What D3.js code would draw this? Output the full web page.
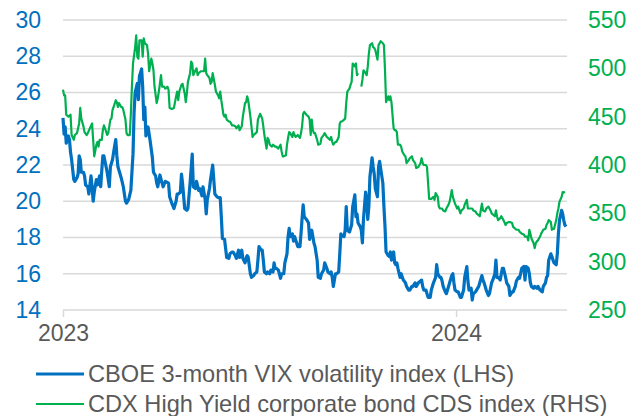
<!DOCTYPE html>
<html lang="en">
  <head>
    <meta charset="UTF-8" />
    <title>VIX vs CDX HY</title>
    <style>
      body { margin: 0; background: #fff; }
      svg { display: block; font-family: "Liberation Sans", Arial, sans-serif; }
    </style>
  </head>
  <body>
    <svg width="643" height="416"></svg>

    <script src="https://d3js.org/d3.v7.min.js"></script>
    <script>
      // Days counted from 1 Jan 2023
      const startDate = new Date(2023, 0, 1);
      const lastDay = 468;

      const vixDays = [
        0,1,2,3,5,6,7,8,10,11, 13,14,15,16,17,19,20,21,23,24,
        26,27,28,29,31,32,34,35,36,37, 38,40,41,43,44,46,47,49,50,51,
        53,54,56,58,59,61,63,65,66,67, 69,70,71,73,74,75,
        76,77,79,81,83,84,86,87,88,90, 92,93,95,98,99,101,103,105,106,107,
        109,110,111,113,115,116,118,120,121,123, 124,126,127,129,130,132,133,134,136,137,
        139,141,143,144,146,147,148,150,152,154, 155,157,
        158,160,161,163,164,166,167,169,170,171, 172,174,175,177,178,180,181,182,184,185,
        186,187,189,190,192,193,195,196,197,198, 200,202,203,205,206,208,209,210,211,213,
        214,215,217,218,220,221,222,223,224,226, 227,228,229,231,232,233,
        234,236,237,239,240,242,243,245,246,248, 249,250,251,253,254,256,257,258,259,261,
        262,263,264,266,267,268,269,271,272,273, 274,276,277,278,279,281,282,283,284,285,
        287,288,289,290,292,293,294,295,297,298, 299,300,302,303,304,305,307,308,309,310,
        311,313,
        314,316,318,319,321,322,324,325,327,328, 330,332,333,334,335,337,338,339,341,342,
        344,346,347,348,350,351,352,353,355,356, 358,359,361,362,363,364,366,367,369,370,
        372,373,375,376,377,379,380,381,383,384, 386,387,389,390,391,
        393,395,396,398,399,400,401,402,403,404, 406,407,408,409,411,412,414,415,417,418,
        420,421,423,424,426,428,429,430,432,433, 434,435,437,438,440,441,443,445,446,448,
        449,450,451,453,454,455,456,458,459,460, 461,463,464,465,466,467
      ];
      const vixValues = [
        24.6,23.7,24.1,23.2,23.6,23.4,22.7,22.3,21.2,21.1, 21.3,21.5,22.5,22.3,21.6,21.6,21.4,20.9,20.8,20.4,
        21.4,20.8,20.0,20.5,21.2,20.9,21.4,20.8,21.7,22.5, 22.5,21.9,21.6,20.8,21.9,22.3,22.7,23.4,22.5,21.9,
        21.5,21.3,20.8,20.0,19.9,20.1,20.6,22.6,24.9,26.0, 26.5,25.6,26.9,27.3,26.3,24.5,
        25.2,23.6,24.1,23.3,22.4,21.6,21.4,21.0,20.8,21.45, 21.0,20.8,21.1,21.0,20.25,19.9,19.6,20.0,20.4,20.4,
        20.5,21.5,21.0,19.6,19.5,19.6,21.0,22.6,20.8,20.7, 21.1,20.6,20.7,20.3,20.8,20.1,19.3,20.1,20.7,21.2,
        22.0,20.4,20.25,20.2,20.2,19.15,17.95,17.9,16.9,16.85, 17.1,17.2,
        17.2,17.0,16.85,17.3,16.9,17.3,16.85,16.6,16.85,17.0, 16.9,16.0,15.8,15.9,16.0,16.1,16.75,17.5,17.3,17.3,
        16.75,16.1,16.0,16.1,16.0,16.2,16.1,16.6,16.3,16.3, 16.2,15.75,16.0,16.0,16.6,17.1,18.05,18.5,18.05,18.2,
        17.8,18.05,17.7,17.5,17.5,18.2,19.05,19.8,19.15,19.0, 18.9,18.8,17.9,18.4,18.05,17.7,
        17.5,16.75,15.8,15.75,16.0,16.2,16.6,16.3,16.1,16.0, 16.1,15.8,15.3,16.0,16.0,16.1,17.1,18.2,18.1,18.05,
        18.4,19.7,18.4,18.3,18.5,18.7,19.7,20.35,19.15,19.3, 18.8,18.6,18.4,17.7,19.0,20.5,20.1,19.0,19.7,21.35,
        22.4,21.9,21.5,20.7,20.25,21.9,22.2,21.8,21.0,19.7, 18.6,17.2,17.0,16.95,17.2,16.75,17.2,16.6,16.5,16.6,
        16.3,15.8,
        16.0,15.65,15.5,15.3,15.1,15.1,15.3,15.3,15.5,15.3, 15.5,15.6,15.65,15.3,15.1,15.1,14.9,14.7,14.7,15.1,
        15.5,15.8,16.5,16.0,15.8,15.8,15.6,15.3,15.0,14.9, 15.3,15.5,15.9,16.0,15.5,15.1,15.0,15.0,14.7,14.7,
        15.1,15.8,16.4,15.6,15.1,15.2,14.55,14.9,15.0,15.1, 15.3,15.5,15.9,15.65,15.5,
        15.1,14.8,14.9,15.5,15.65,15.8,16.0,16.75,15.8,15.8, 15.65,16.0,16.3,16.3,15.8,15.5,15.3,14.8,15.0,15.0,
        15.3,15.6,15.8,15.75,16.3,16.4,15.65,16.4,16.3,16.0, 15.5,15.3,15.2,15.3,15.2,15.3,15.1,15.0,15.3,15.5,
        15.8,15.9,16.75,17.1,16.95,16.75,16.6,16.5,17.1,18.2, 18.95,19.5,19.3,18.95,18.7,18.6
      ];

      const cdxDays = [
        0,1,2,3,5,7,8,10,11,13, 15,16,17,19,20,22,23,25,27,28,
        29,31,32,33,34,36,37,38,39,41, 42,44,45,46,47,49,50,51,52,54,
        55,56,58,59,60,62,63,64,65,67, 68,69,70,71,73,74,75,
        76,78,79,80,82,83,84,85,87,88, 89,91,92,94,95,97,98,99,101,103,
        105,106,107,108,110,111,113,114,115,116, 118,119,120,121,123,124,125,126,128,129,
        131,132,133,134,136,137,138,139,141,142, 144,145,146,147,149,150,151,152,154,155,
        157,
        158,160,161,163,164,166,167,169,170,171, 172,174,175,176,177,179,180,181,183,185,
        186,187,189,190,191,192,194,195,197,198, 200,202,203,204,205,207,208,209,210,211,
        213,214,215,216,218,220,221,222,223,224, 226,228,229,230,231,232,233,
        234,236,237,239,240,242,243,245,246,248, 249,250,251,253,254,256,257,258,259,261,
        262,263,264,266,267,268,269,271,272,273, 274,275,277,278,279,281,282,283,284,285,
        287,288,289,290,292,293,294,295,297,298, 299,300,302,303,304,305,307,308,309,310,
        311,313,
        314,315,317,318,319,321,322,324,325,327, 328,330,332,333,334,335,337,338,340,341,
        342,344,345,346,348,349,350,352,353,355, 356,358,359,361,362,364,366,367,369,370,
        372,373,375,376,378,380,381,383,384,386, 387,389,390,392,
        393,395,397,398,400,401,402,403,404,406, 407,409,411,412,414,415,417,418,420,421,
        423,424,426,428,429,431,432,433,434,435, 437,438,439,440,441,443,444,445,446,448,
        449,450,451,453,454,455,456,458,459,460, 461,463,464,465,466
      ];
      const cdxValues = [
        478,472,472,452,450,452,431,426,431,433, 443,459,448,440,434,431,433,438,443,426,
        409,421,424,419,426,426,436,441,438,431, 433,447,448,457,460,467,465,460,464,460,
        460,457,447,433,431,431,453,481,505,522, 534,512,510,529,529,512,531,
        526,524,515,497,510,505,498,481,464,469, 476,493,481,481,479,481,478,459,458,459,
        471,476,467,476,483,484,474,465,474,486, 495,507,505,493,498,500,493,495,497,497,
        497,510,495,493,490,484,486,495,483,476, 472,469,476,467,452,450,452,447,445,445,
        441,
        441,440,438,441,436,440,450,464,465,471, 467,450,440,429,431,433,434,447,453,448,
        440,431,417,428,426,421,419,421,419,419, 417,421,414,409,409,410,421,428,434,433,
        429,434,431,429,431,428,433,440,453,455, 452,450,447,431,447,436,433,
        433,426,421,422,428,431,433,429,428,426, 429,424,421,424,424,429,443,445,445,447,
        448,464,476,479,483,486,505,502,505,493, 495,null,481,488,498,495,493,502,515,524,
        526,522,521,519,509,524,526,528,526,524, 498,465,471,467,471,465,438,436,436,434,
        421,421,
        419,414,410,409,402,405,407,409,405,402, 397,398,402,407,402,400,400,398,365,365,
        365,367,364,371,367,357,355,355,353,352, 355,359,362,374,367,360,355,357,350,353,
        355,359,364,355,355,355,353,352,350,348, 347,360,353,352,
        355,357,353,350,348,347,353,347,343,345, 347,343,338,340,341,341,340,336,334,333,
        333,331,329,328,326,326,322,333,329,324, 319,314,319,321,322,326,329,331,333,334,
        338,340,343,341,333,334,334,343,350,355, 362,367,372,372,371
      ];

      const leftTicks = [14, 16, 18, 20, 22, 24, 26, 28, 30];
      const rightTicks = [250, 300, 350, 400, 450, 500, 550];
      const yearTicks = ["2023-01-01", "2024-01-01"];

      const seriesNames = [
        "CBOE 3-month VIX volatility index (LHS)",
        "CDX High Yield corporate bond CDS index (RHS)",
      ];

      const blue = "#0070C0";
      const green = "#00B050";
      const grey = "#595959";

      const plotLeft = 63, plotRight = 567, plotTop = 20, plotBottom = 310;

      const toDate = (d) => d3.timeDay.offset(startDate, d);
      const vix = vixDays.map((d, i) => ({ date: toDate(d), v: vixValues[i] }));
      const cdx = cdxDays.map((d, i) => ({ date: toDate(d), v: cdxValues[i] }));

      const x = d3.scaleTime()
        .domain([startDate, toDate(lastDay)])
        .range([plotLeft, plotRight]);
      const yL = d3.scaleLinear().domain([14, 30]).range([plotBottom, plotTop]);
      const yR = d3.scaleLinear().domain([250, 550]).range([plotBottom, plotTop]);

      const svg = d3.select("svg");

      // gridlines
      svg.append("g")
        .selectAll("line")
        .data(leftTicks)
        .enter()
        .append("line")
        .attr("x1", plotLeft)
        .attr("x2", plotRight)
        .attr("y1", (d) => yL(d))
        .attr("y2", (d) => yL(d))
        .attr("stroke", "#d9d9d9")
        .attr("stroke-width", 1.5);

      // x axis
      const xAxis = svg.append("g")
        .attr("transform", "translate(0," + plotBottom + ")")
        .call(
          d3.axisBottom(x)
            .tickValues(yearTicks.map((s) => d3.timeParse("%Y-%m-%d")(s)))
            .tickFormat(d3.timeFormat("%Y"))
            .tickSize(7)
            .tickPadding(8)
        );
      xAxis.select(".domain").remove();
      xAxis.selectAll("line").attr("stroke", "#d9d9d9").attr("stroke-width", 1.5);
      xAxis.selectAll("text")
        .attr("fill", grey)
        .style("font-size", "23px")
        .style("font-family", "'Liberation Sans', Arial, sans-serif");

      // left axis
      const yAxisL = svg.append("g")
        .attr("transform", "translate(" + plotLeft + ",0)")
        .call(d3.axisLeft(yL).tickValues(leftTicks).tickSize(0).tickPadding(22));
      yAxisL.select(".domain").remove();
      yAxisL.selectAll("text")
        .attr("fill", blue)
        .style("font-size", "23px")
        .style("font-family", "'Liberation Sans', Arial, sans-serif");

      // right axis
      const yAxisR = svg.append("g")
        .attr("transform", "translate(" + plotRight + ",0)")
        .call(d3.axisRight(yR).tickValues(rightTicks).tickSize(0).tickPadding(21));
      yAxisR.select(".domain").remove();
      yAxisR.selectAll("text")
        .attr("fill", green)
        .style("font-size", "23px")
        .style("font-family", "'Liberation Sans', Arial, sans-serif");

      // lines
      const lineL = d3.line()
        .defined((d) => d.v != null)
        .x((d) => x(d.date))
        .y((d) => yL(d.v));
      const lineR = d3.line()
        .defined((d) => d.v != null)
        .x((d) => x(d.date))
        .y((d) => yR(d.v));

      svg.append("path")
        .datum(vix)
        .attr("d", lineL)
        .attr("fill", "none")
        .attr("stroke", blue)
        .attr("stroke-width", 3.2)
        .attr("stroke-linejoin", "round");

      svg.append("path")
        .datum(cdx)
        .attr("d", lineR)
        .attr("fill", "none")
        .attr("stroke", green)
        .attr("stroke-width", 2.2)
        .attr("stroke-linejoin", "round");

      // legend
      const legend = svg.append("g");
      const legendColors = [blue, green];
      const legendWidths = [3.2, 2.2];
      seriesNames.forEach((name, i) => {
        const ly = 374 + i * 30;
        legend.append("line")
          .attr("x1", 36)
          .attr("x2", 84)
          .attr("y1", ly)
          .attr("y2", ly)
          .attr("stroke", legendColors[i])
          .attr("stroke-width", legendWidths[i]);
        legend.append("text")
          .attr("x", 88)
          .attr("y", ly)
          .attr("dy", "0.35em")
          .attr("fill", grey)
          .style("font-size", "23.6px")
          .text(name);
      });
    </script>
  </body>
</html>
